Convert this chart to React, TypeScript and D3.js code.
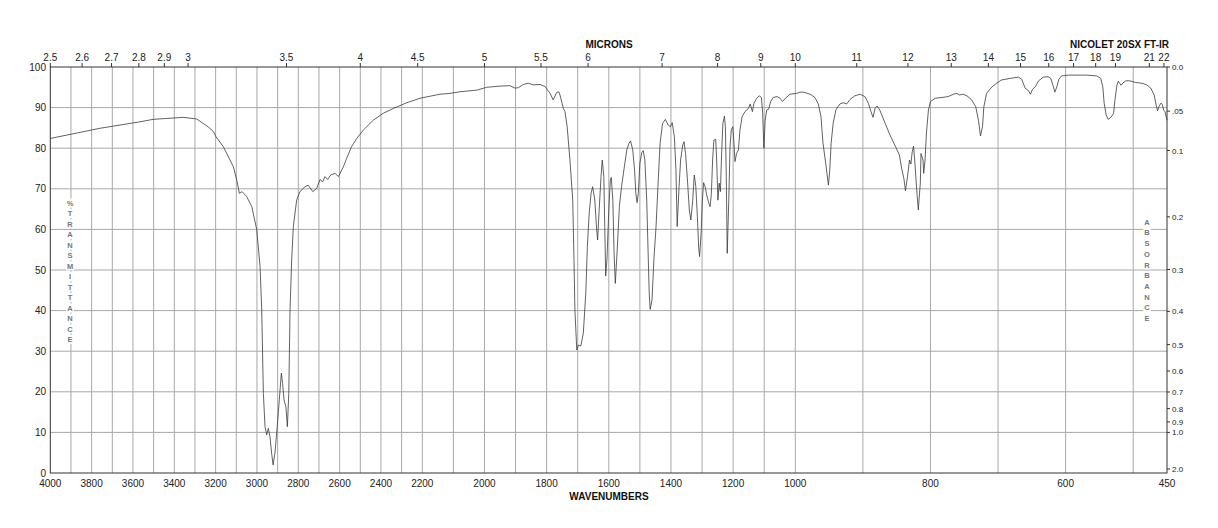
import React from "react";
import * as d3 from "d3";

const wavenumbers: number[] = [
  4000, 3760, 3566, 3503, 3358, 3292, 3237, 3211, 3198, 3163, 3114, 3098, 3085, 3072, 3050, 3025, 3001, 2985, 2977, 2969,
  2961, 2953, 2945, 2937, 2929, 2922, 2913, 2902, 2892, 2882, 2876, 2869, 2860, 2853, 2846, 2840, 2832, 2824, 2808, 2792,
  2768, 2752, 2730, 2711, 2695, 2682, 2671, 2658, 2643, 2622, 2606, 2582, 2566, 2542, 2517, 2485, 2437, 2389, 2340, 2275,
  2211, 2143, 2111, 2079, 2025, 1993, 1950, 1918, 1902, 1891, 1875, 1859, 1843, 1821, 1805, 1789, 1779, 1768, 1761, 1757,
  1746, 1741, 1734, 1725, 1716, 1712, 1709, 1703, 1698, 1690, 1682, 1674, 1669, 1663, 1657, 1652, 1645, 1639, 1636, 1631,
  1625, 1621, 1616, 1613, 1610, 1606, 1600, 1595, 1592, 1587, 1583, 1579, 1573, 1566, 1559, 1550, 1542, 1535, 1530, 1523,
  1517, 1513, 1509, 1505, 1500, 1494, 1489, 1484, 1478, 1474, 1470, 1467, 1461, 1455, 1448, 1442, 1435, 1427, 1418, 1409,
  1402, 1396, 1389, 1384, 1380, 1374, 1369, 1362, 1358, 1353, 1347, 1341, 1336, 1330, 1325, 1320, 1315, 1311, 1308, 1303,
  1299, 1295, 1290, 1285, 1278, 1274, 1270, 1266, 1262, 1256, 1253, 1249, 1245, 1241, 1237, 1233, 1228, 1225, 1222, 1219,
  1214, 1210, 1206, 1201, 1198, 1194, 1189, 1183, 1178, 1171, 1162, 1151, 1145, 1138, 1133, 1124, 1116, 1109, 1105, 1101,
  1097, 1092, 1086, 1079, 1071, 1058, 1049, 1041, 1032, 1017, 998, 993, 988, 978, 971, 966, 962, 959, 955, 951,
  949, 947, 944, 940, 934, 929, 924, 919, 912, 904, 897, 892, 888, 885, 882, 879, 875, 867, 860, 852,
  846, 843, 839, 837, 834, 831, 829, 827, 825, 823, 820, 818, 815, 814, 811, 810, 808, 806, 803, 800,
  793, 783, 774, 766, 761, 757, 752, 746, 739, 733, 729, 726, 723, 721, 717, 709, 702, 695, 682, 670,
  665, 660, 655, 652, 649, 645, 640, 633, 626, 622, 618, 616, 613, 610, 606, 596, 584, 569, 554, 548,
  545, 543, 540, 537, 533, 529, 527, 524, 522, 520, 518, 515, 511, 505, 497, 487, 480, 474, 469, 466,
  464, 462, 459, 457, 455, 453, 450,
];

const transmittance: number[] = [
  82.4, 84.9, 86.5, 87.1, 87.6, 87.2, 85.3, 84.1, 82.8, 80.4, 75.4, 72.2, 68.9, 69.3, 68.1, 65.6, 59.9, 50.8, 40.1, 19.6,
  11.4, 9.4, 11.0, 8.9, 4.9, 2.0, 4.9, 11.4, 18.0, 24.6, 22.1, 18.0, 16.3, 11.4, 19.6, 40.1, 52.5, 60.7, 67.2, 69.3,
  70.5, 70.9, 69.3, 70.1, 72.3, 71.7, 73.0, 72.3, 73.4, 73.8, 73.0, 75.4, 77.5, 80.4, 82.4, 84.5, 86.9, 88.6, 89.8, 91.2,
  92.3, 93.3, 93.5, 93.9, 94.3, 95.0, 95.3, 95.4, 94.8, 94.9, 95.7, 96.0, 95.6, 95.7, 95.2, 93.5, 91.9, 93.7, 93.9, 93.1,
  89.8, 89.0, 85.3, 77.1, 67.2, 52.5, 40.1, 30.3, 31.5, 31.3, 34.4, 44.3, 55.7, 64.0, 68.9, 70.5, 67.2, 59.9, 57.4, 64.8,
  73.0, 77.1, 73.0, 60.7, 48.5, 52.5, 64.8, 72.2, 72.8, 67.2, 54.1, 46.7, 54.9, 65.6, 70.5, 75.4, 79.6, 81.2, 81.8, 79.6,
  74.6, 68.9, 66.6, 68.9, 76.3, 78.9, 79.4, 77.1, 67.2, 55.7, 44.3, 40.3, 42.6, 52.5, 60.7, 70.5, 81.2, 86.1, 87.1, 85.7,
  85.3, 86.3, 82.8, 74.6, 60.7, 70.5, 77.1, 80.8, 81.6, 78.7, 72.2, 64.8, 62.3, 67.2, 73.4, 70.5, 63.1, 55.7, 53.3, 59.0,
  67.2, 71.5, 70.5, 68.5, 66.4, 65.6, 68.9, 77.1, 82.0, 82.2, 77.1, 67.2, 71.4, 69.3, 78.7, 86.1, 87.9, 85.3, 73.0, 54.1,
  67.2, 80.4, 84.5, 85.3, 82.0, 76.7, 78.7, 79.6, 84.5, 87.8, 89.0, 89.8, 90.9, 89.0, 91.1, 92.3, 92.9, 92.5, 88.6, 80.0,
  86.9, 89.4, 89.6, 91.5, 92.5, 92.7, 92.3, 91.5, 92.3, 93.3, 93.5, 93.8, 93.8, 93.3, 92.5, 90.9, 87.8, 81.2, 76.3, 70.9,
  74.6, 81.2, 86.1, 89.4, 90.9, 91.2, 90.9, 92.0, 92.9, 93.3, 92.7, 91.1, 89.0, 87.6, 89.8, 90.4, 89.4, 86.1, 83.3, 80.5,
  78.3, 75.4, 72.2, 69.5, 73.0, 77.1, 76.1, 79.1, 80.5, 76.3, 68.9, 64.8, 71.4, 78.7, 77.1, 73.8, 77.1, 83.7, 89.4, 91.5,
  92.3, 92.5, 92.7, 93.3, 93.5, 93.1, 93.3, 92.9, 91.9, 90.2, 86.9, 83.0, 85.3, 90.2, 93.5, 95.1, 96.0, 96.8, 97.2, 97.5,
  97.0, 94.8, 94.2, 93.3, 94.5, 95.1, 96.6, 97.5, 97.6, 97.2, 95.1, 93.8, 95.1, 97.0, 97.8, 98.0, 98.0, 98.0, 97.8, 97.2,
  95.1, 91.1, 88.2, 87.1, 87.6, 88.6, 91.9, 95.6, 96.5, 96.0, 95.5, 96.1, 96.6, 96.6, 96.2, 96.0, 95.6, 94.8, 93.1, 90.6,
  89.2, 90.2, 91.1, 90.8, 89.4, 89.0, 86.9,
];

const bottomTicks: number[] = [4000, 3800, 3600, 3400, 3200, 3000, 2800, 2600, 2400, 2200, 2000, 1800, 1600, 1400, 1200, 1000, 800, 600, 450];
const micronTicks: number[] = [2.5, 2.6, 2.7, 2.8, 2.9, 3, 3.5, 4, 4.5, 5, 5.5, 6, 7, 8, 9, 10, 11, 12, 13, 14, 15, 16, 17, 18, 19, 21, 22];
const leftTicks: number[] = [0, 10, 20, 30, 40, 50, 60, 70, 80, 90, 100];
const absTicks: number[] = [0, 0.05, 0.1, 0.2, 0.3, 0.4, 0.5, 0.6, 0.7, 0.8, 0.9, 1.0, 2.0];
const absLabels: string[] = ["0.0", ".05", "0.1", "0.2", "0.3", "0.4", "0.5", "0.6", "0.7", "0.8", "0.9", "1.0", "2.0"];
const leftWord = "%TRANSMITTANCE";
const rightWord = "ABSORBANCE";

const W = 1218;
const H = 528;
const L = 50.3, R = 1167, T = 67, B = 473;

export default function App() {
  const x = d3.scaleLinear().domain([4000, 2200, 1000, 450]).range([L, 422.3, 795.3, R]);
  const y = d3.scaleLinear().domain([0, 100]).range([B, T]);
  const pts: [number, number][] = wavenumbers.map((w, i) => [w, transmittance[i]]);
  const line = d3.line<[number, number]>().x((d) => x(d[0])).y((d) => y(d[1]));
  const grid: number[] = d3.range(4000, 450, -100).filter((v) => v !== 4000);
  const font = "'Liberation Sans', Arial, Helvetica, sans-serif";
  const txt = "#222";
  return (
    <svg width={W} height={H} style={{ position: "absolute", left: 0, top: 0, background: "#fff" }} fontFamily={font}>
      <rect x={0} y={0} width={W} height={H} fill="#fff" />
      {grid.map((g) => (
        <line key={"vg" + g} x1={x(g)} x2={x(g)} y1={T} y2={B} stroke="#a8a8a8" strokeWidth={1} />
      ))}
      {leftTicks.filter((v) => v > 0 && v < 100).map((v) => (
        <line key={"hg" + v} x1={L} x2={R} y1={y(v)} y2={y(v)} stroke="#a8a8a8" strokeWidth={1} />
      ))}
      {leftWord.split("").map((c, i) => (
        <g key={"lw" + i}>
          <rect x={66} y={203 + i * 10.5 - 4.5} width={8} height={9} fill="#fff" />
          <text x={70} y={203 + i * 10.5 + 2.7} fontSize={7.5} fill="#777" textAnchor="middle" fontWeight="bold">{c}</text>
        </g>
      ))}
      {rightWord.split("").map((c, i) => (
        <g key={"rw" + i}>
          <rect x={1143} y={222 + i * 10.7 - 4.5} width={8} height={9} fill="#fff" />
          <text x={1147} y={222 + i * 10.7 + 2.7} fontSize={7.5} fill="#777" textAnchor="middle" fontWeight="bold">{c}</text>
        </g>
      ))}
      <path d={line(pts) || ""} fill="none" stroke="#3a3a3a" strokeWidth={0.8} />
      <rect x={L} y={T} width={R - L} height={B - T} fill="none" stroke="#333" strokeWidth={1} />
      {leftTicks.map((v) => (
        <text key={"lt" + v} x={46} y={y(v) + 3.6} fontSize={10} textAnchor="end" fill={txt}>{v}</text>
      ))}
      {bottomTicks.map((v) => (
        <text key={"bt" + v} x={x(v)} y={487} fontSize={10} textAnchor="middle" fill={txt}>{v}</text>
      ))}
      {micronTicks.map((m) => (
        <g key={"mt" + m}>
          <line x1={x(10000 / m)} x2={x(10000 / m)} y1={T} y2={T - 4} stroke="#333" strokeWidth={1} />
          <text x={x(10000 / m)} y={61} fontSize={10} textAnchor="middle" fill={txt}>{m}</text>
        </g>
      ))}
      {absTicks.map((a, i) => {
        const yy = y(100 * Math.pow(10, -a));
        return (
          <g key={"at" + i}>
            <line x1={R} x2={R + 3} y1={yy} y2={yy} stroke="#333" strokeWidth={1} />
            <text x={R + 5} y={yy + 3} fontSize={8} fill={txt}>{absLabels[i]}</text>
          </g>
        );
      })}
      <text x={609} y={48} fontSize={10} fontWeight="bold" textAnchor="middle" fill="#111">MICRONS</text>
      <text x={1169} y={48} fontSize={10} fontWeight="bold" textAnchor="end" fill="#111">NICOLET 20SX FT-IR</text>
      <text x={609} y={500} fontSize={10} fontWeight="bold" textAnchor="middle" fill="#111">WAVENUMBERS</text>
    </svg>
  );
}
